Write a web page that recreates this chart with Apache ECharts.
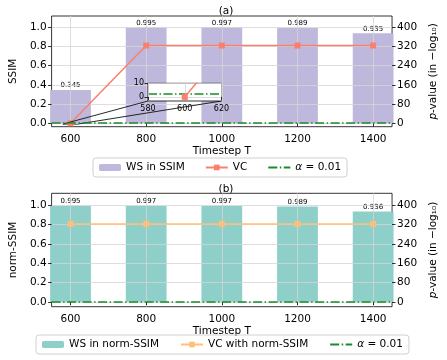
<!DOCTYPE html>
<html><head><meta charset="utf-8">
<script src="https://cdn.jsdelivr.net/npm/echarts@6/dist/echarts.min.js"></script>
<style>html,body{margin:0;padding:0;background:#fff}#c{width:447px;height:360px}</style>
</head><body><div id="c"></div>
<script>
// ---- data ----
const timesteps = [600, 800, 1000, 1200, 1400];
const wsSSIM = [0.345, 0.995, 0.997, 0.989, 0.935];
const wsNormSSIM = [0.995, 0.997, 0.997, 0.989, 0.936];
const vcP = [0, 323, 323, 323, 323];          // -log10 p-value
const vcNormP = [323, 323, 323, 323, 323];    // -log10 p-value
const alphaLevel = 2;                         // -log10(0.01)
const xTickVals = [600, 800, 1000, 1200, 1400];
const leftTickVals = [0, 0.2, 0.4, 0.6, 0.8, 1.0];
const rightTickVals = [0, 80, 160, 240, 320, 400];
const insetXTicks = [580, 600, 620];
const insetYTicks = [0, 10];
const insetXRange = [580, 620];
const insetYRange = [-3, 10];

const FONT = 'DejaVu Sans';
const pair = (xs, ys) => xs.map((x, i) => [x, ys[i]]);
const C_PURPLE = '#BEB8DC', C_TEAL = '#8ECFC9', C_SALMON = '#FA7F6F', C_ORANGE = '#FFBE7A', C_GREEN = '#1a8a2a';
const dashDot = [9, 2.5, 1.5, 2.5];
const gridLine = {show: true, lineStyle: {color: '#d6d6d6', width: 0.8}};

function xAx(gridIndex, min, max, ticks, name, z, fs, margin) {
  return {
    type: 'value', gridIndex, min, max, z,
    name, nameLocation: 'middle', nameGap: 19,
    nameTextStyle: {fontFamily: FONT, fontSize: 10.5, color: '#000'},
    axisLine: {show: false},
    axisTick: {show: true, length: 3.5, customValues: ticks, lineStyle: {color: '#000', width: 0.8}},
    axisLabel: {customValues: ticks, margin: margin, fontFamily: FONT, fontSize: fs, color: '#000', formatter: v => String(v)},
    splitLine: gridLine
  };
}
function yAx(gridIndex, min, max, ticks, opts) {
  return Object.assign({
    type: 'value', gridIndex, min, max,
    nameLocation: 'middle', nameRotate: 90,
    nameTextStyle: {fontFamily: FONT, fontSize: 10.5, color: '#000'},
    axisLine: {show: false},
    axisTick: {show: true, length: 3.5, customValues: ticks, lineStyle: {color: '#000', width: 0.8}},
    axisLabel: {customValues: ticks, margin: 5, fontFamily: FONT, fontSize: 10.5, color: '#000',
      formatter: v => String(v)},
    splitLine: {show: false}
  }, opts);
}
const leftFmt = v => v.toFixed(1);
const pName = '{i|p}-value (in \u2212log\u2081\u2080)';
const pRich = {i: {fontStyle: 'italic', fontFamily: FONT, fontSize: 10.5}};

const chart = echarts.init(document.getElementById('c'), null, {renderer: 'canvas'});
const barLabel = {show: true, position: 'top', distance: 1, fontFamily: FONT, fontSize: 7, color: '#000',
  textBorderWidth: 0, formatter: p => p.value[1].toFixed(3)};
const legendText = {fontFamily: FONT, fontSize: 10.5, color: '#000',
  rich: {i: {fontStyle: 'italic', fontFamily: FONT, fontSize: 10.5}, n: {fontFamily: FONT, fontSize: 10.5}}};
const legendFmt = n => n.indexOf('\u03b1') === 0 ? '{i|\u03b1}{n| = 0.01}' : n;
const alphaLegend = {name: '\u03b1 = 0.01', itemStyle: {opacity: 0}};

const option = {
  animation: false,
  backgroundColor: '#fff',
  title: [
    {text: '(a)', left: 221, top: 1, textAlign: 'center', textStyle: {fontFamily: FONT, fontSize: 10.5, fontWeight: 'normal', color: '#000'}},
    {text: '(b)', left: 221, top: 179, textAlign: 'center', textStyle: {fontFamily: FONT, fontSize: 10.5, fontWeight: 'normal', color: '#000'}}
  ],
  grid: [
    {left: 38, top: 16, width: 367, height: 110.7, show: true, borderColor: '#000', borderWidth: 0.8, backgroundColor: 'transparent'},
    {left: 148, top: 83.3, width: 73.5, height: 17.7, show: true, borderColor: '#000', borderWidth: 0.8, backgroundColor: '#fff', z: 5},
    {left: 38, top: 193.3, width: 367, height: 113.4, show: true, borderColor: '#000', borderWidth: 0.8, backgroundColor: 'transparent'}
  ],
  xAxis: [
    xAx(0, 550, 1450, xTickVals, 'Timestep T', 1.5, 10.5, 7),
    xAx(1, insetXRange[0], insetXRange[1], insetXTicks, '', 6, 8, 4),
    xAx(2, 550, 1450, xTickVals, 'Timestep T', 1.5, 10.5, 7)
  ],
  yAxis: [
    yAx(0, -0.035, 1.114, leftTickVals, {name: 'SSIM', nameGap: 25, position: 'left', z: 1.5, splitLine: gridLine,
      axisLabel: {customValues: leftTickVals, margin: 5, fontFamily: FONT, fontSize: 10.5, color: '#000', formatter: leftFmt}}),
    yAx(0, -14, 445.6, rightTickVals, {name: pName, nameGap: 27, position: 'right', z: 1.5,
      nameTextStyle: {fontFamily: FONT, fontSize: 10.5, color: '#000', rich: pRich}}),
    yAx(1, insetYRange[0], insetYRange[1], insetYTicks, {position: 'left', z: 6, splitLine: gridLine,
      axisLabel: {customValues: insetYTicks, margin: 4, fontFamily: FONT, fontSize: 8, color: '#000'}}),
    yAx(2, -0.05, 1.125, leftTickVals, {name: 'norm-SSIM', nameGap: 25, position: 'left', z: 1.5, splitLine: gridLine,
      axisLabel: {customValues: leftTickVals, margin: 5, fontFamily: FONT, fontSize: 10.5, color: '#000', formatter: leftFmt}}),
    yAx(2, -20, 450, rightTickVals, {name: pName, nameGap: 27, position: 'right', z: 1.5,
      nameTextStyle: {fontFamily: FONT, fontSize: 10.5, color: '#000', rich: pRich}})
  ],
  legend: [
    {data: ['WS in SSIM', 'VC', alphaLegend], left: 93, top: 158, orient: 'horizontal',
      itemWidth: 22, itemHeight: 7, itemGap: 20, padding: [4, 6], borderColor: '#d0d0d0', borderWidth: 1, borderRadius: 3,
      textStyle: legendText, formatter: legendFmt},
    {data: ['WS in norm-SSIM', 'VC with norm-SSIM', alphaLegend], left: 36, top: 335, orient: 'horizontal',
      itemWidth: 22, itemHeight: 7, itemGap: 21, padding: [4, 6], borderColor: '#d0d0d0', borderWidth: 1, borderRadius: 3,
      textStyle: legendText, formatter: legendFmt}
  ],
  series: [
    {name: 'WS in SSIM', type: 'bar', xAxisIndex: 0, yAxisIndex: 0, data: pair(timesteps, wsSSIM),
      barWidth: 367 * 100 / 900, itemStyle: {color: C_PURPLE}, label: barLabel, z: 1},
    {name: 'VC', type: 'line', xAxisIndex: 0, yAxisIndex: 1, data: pair(timesteps, vcP),
      symbol: 'rect', symbolSize: 6, itemStyle: {color: C_SALMON}, lineStyle: {color: C_SALMON, width: 1.5}, z: 3,
      markArea: {silent: true, itemStyle: {color: 'transparent', borderColor: '#000', borderWidth: 0.9},
        data: [[{coord: [insetXRange[0], insetYRange[0]]}, {coord: [insetXRange[1], insetYRange[1]]}]]}},
    {name: '\u03b1 = 0.01', type: 'line', xAxisIndex: 0, yAxisIndex: 1, data: [], symbol: 'none',
      itemStyle: {color: C_GREEN}, lineStyle: {color: C_GREEN, width: 1.5, type: dashDot}, z: 3,
      markLine: {silent: true, symbol: 'none', label: {show: false}, lineStyle: {color: C_GREEN, width: 1.5, type: dashDot},
        data: [{yAxis: alphaLevel}]}},
    // inset
    {name: 'VC', type: 'line', xAxisIndex: 1, yAxisIndex: 2, data: pair(timesteps, vcP), clip: true,
      symbol: 'rect', symbolSize: 6, itemStyle: {color: C_SALMON}, lineStyle: {color: C_SALMON, width: 1.5}, z: 8},
    {name: '\u03b1 = 0.01', type: 'line', xAxisIndex: 1, yAxisIndex: 2, data: [], symbol: 'none', z: 7,
      itemStyle: {color: C_GREEN}, lineStyle: {color: C_GREEN, width: 1.5, type: dashDot},
      markLine: {silent: true, symbol: 'none', label: {show: false}, lineStyle: {color: C_GREEN, width: 1.5, type: dashDot},
        data: [{yAxis: alphaLevel}]}},
    // bottom
    {name: 'WS in norm-SSIM', type: 'bar', xAxisIndex: 2, yAxisIndex: 3, data: pair(timesteps, wsNormSSIM),
      barWidth: 367 * 100 / 900, itemStyle: {color: C_TEAL}, label: barLabel, z: 1},
    {name: 'VC with norm-SSIM', type: 'line', xAxisIndex: 2, yAxisIndex: 4, data: pair(timesteps, vcNormP),
      symbol: 'rect', symbolSize: 6, itemStyle: {color: C_ORANGE}, lineStyle: {color: C_ORANGE, width: 1.5}, z: 3},
    {name: '\u03b1 = 0.01', type: 'line', xAxisIndex: 2, yAxisIndex: 4, data: [], symbol: 'none',
      itemStyle: {color: C_GREEN}, lineStyle: {color: C_GREEN, width: 1.5, type: dashDot}, z: 3,
      markLine: {silent: true, symbol: 'none', label: {show: false}, lineStyle: {color: C_GREEN, width: 1.5, type: dashDot},
        data: [{yAxis: alphaLevel}]}}
  ]
};
chart.setOption(option);

// connector lines between inset and its marked region (mark_inset style)
const insetLL = chart.convertToPixel({xAxisIndex: 1, yAxisIndex: 2}, [insetXRange[0], insetYRange[0]]);
const insetLR = chart.convertToPixel({xAxisIndex: 1, yAxisIndex: 2}, [insetXRange[1], insetYRange[0]]);
const mainLL = chart.convertToPixel({xAxisIndex: 0, yAxisIndex: 1}, [insetXRange[0], insetYRange[0]]);
const mainLR = chart.convertToPixel({xAxisIndex: 0, yAxisIndex: 1}, [insetXRange[1], insetYRange[0]]);
chart.setOption({graphic: [
  {type: 'line', z: 4, shape: {x1: insetLL[0], y1: insetLL[1], x2: mainLL[0], y2: mainLL[1]}, style: {stroke: '#111', lineWidth: 0.9}},
  {type: 'line', z: 4, shape: {x1: insetLR[0], y1: insetLR[1], x2: mainLR[0], y2: mainLR[1]}, style: {stroke: '#111', lineWidth: 0.9}}
]});
</script></body></html>
